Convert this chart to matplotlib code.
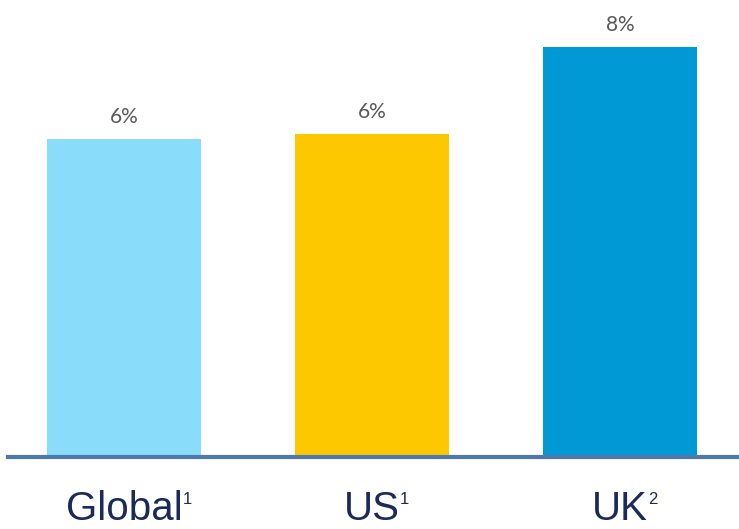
import matplotlib
matplotlib.use('Agg')
import matplotlib.pyplot as plt

# values (labels are rounded)
categories = ['Global', 'US', 'UK']
footnotes = ['1', '1', '2']
values = [6.2, 6.3, 8.0]
value_labels = ['6%', '6%', '8%']
colors = ['#8adcfb', '#fec800', '#0099d6']

fig = plt.figure(figsize=(7.39, 5.29), dpi=100)
ax = fig.add_axes([0, 72 / 529, 1, 1 - 72 / 529])

x = range(len(categories))
ax.bar(x, values, width=0.62, color=colors, zorder=2)
ax.set_xlim(-0.5, 2.48)
ax.set_ylim(0, 8.92)

# baseline
ax.axhline(0, xmin=8 / 739, xmax=1, color='#4d79ad', lw=3, zorder=3, clip_on=False)

for i, (v, lab) in enumerate(zip(values, value_labels)):
    ax.annotate(lab, (i, v), xytext=(0, 9), textcoords='offset points',
                ha='center', va='bottom', fontsize=15, color='#595959',
                family=['Lato', 'DejaVu Sans'])

for i, (cat, fn) in enumerate(zip(categories, footnotes)):
    t = ax.annotate(cat, (i, 0), xytext=(0, -24), textcoords='offset points',
                    ha='center', va='top', fontsize=29, color='#1b2a5c',
                    family=['Liberation Sans'], annotation_clip=False)
    # small superscript footnote marker
    ax.annotate(fn, xy=(1, 1), xycoords=t, xytext=(0, -1),
                textcoords='offset points', ha='left', va='top',
                fontsize=12, color='#1b2a5c', family=['Liberation Sans'],
                annotation_clip=False)

ax.axis('off')
fig.savefig('out.png', dpi=100)
